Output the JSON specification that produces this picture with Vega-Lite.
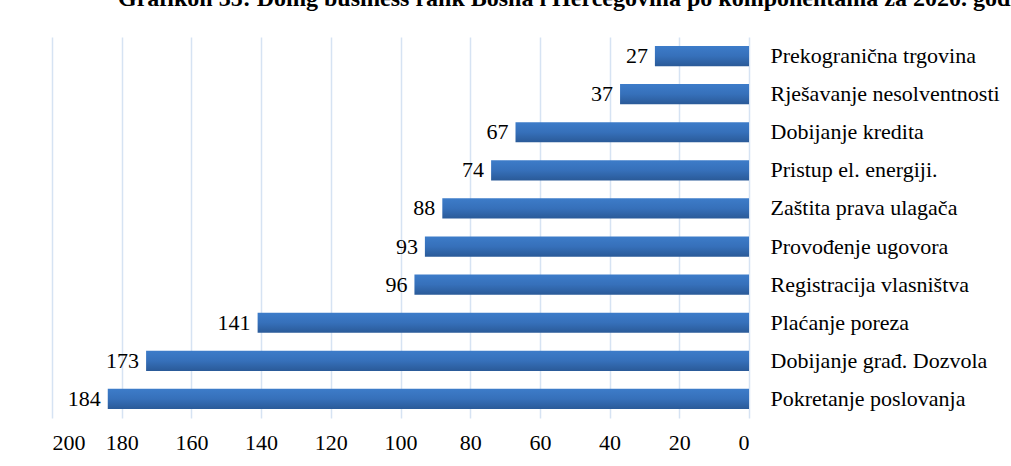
{
  "$schema": "https://vega.github.io/schema/vega-lite/v6.json",
  "autosize": "none",
  "width": 697,
  "height": 381,
  "padding": {"left": 52, "top": 37, "right": 262, "bottom": 48},
  "background": "white",
  "title": {
    "text": "Grafikon 35: Doing business rank Bosna i Hercegovina po komponentama za 2020. godinu",
    "anchor": "start",
    "dx": 66,
    "offset": 7,
    "baseline": "alphabetic",
    "font": "Times New Roman",
    "fontSize": 24,
    "fontWeight": "bold",
    "color": "#000000"
  },
  "data": {
    "values": [
      {"komponenta": "Prekogranična trgovina", "rank": 27},
      {"komponenta": "Rješavanje nesolventnosti", "rank": 37},
      {"komponenta": "Dobijanje kredita", "rank": 67},
      {"komponenta": "Pristup el. energiji.", "rank": 74},
      {"komponenta": "Zaštita prava ulagača", "rank": 88},
      {"komponenta": "Provođenje ugovora", "rank": 93},
      {"komponenta": "Registracija vlasništva", "rank": 96},
      {"komponenta": "Plaćanje poreza", "rank": 141},
      {"komponenta": "Dobijanje građ. Dozvola", "rank": 173},
      {"komponenta": "Pokretanje poslovanja", "rank": 184}
    ]
  },
  "encoding": {
    "y": {
      "field": "komponenta",
      "type": "nominal",
      "sort": null,
      "scale": {"paddingInner": 0.47, "paddingOuter": 0.235},
      "axis": {
        "orient": "right",
        "title": null,
        "domain": false,
        "ticks": false,
        "grid": false,
        "labelPadding": 21,
        "labelLimit": 300,
        "labelFont": "Times New Roman",
        "labelFontSize": 22,
        "labelColor": "#000000"
      }
    },
    "x": {
      "field": "rank",
      "type": "quantitative",
      "scale": {"domain": [0, 200], "reverse": true, "nice": false},
      "axis": {
        "title": null,
        "values": [0, 20, 40, 60, 80, 100, 120, 140, 160, 180, 200],
        "domain": false,
        "ticks": false,
        "grid": true,
        "gridColor": "#d6e3f3",
        "gridWidth": 1.5,
        "labelPadding": 14,
        "labelFont": "Times New Roman",
        "labelFontSize": 22,
        "labelColor": "#000000"
      }
    }
  },
  "layer": [
    {
      "mark": {
        "type": "bar",
        "color": {
          "gradient": "linear",
          "x1": 0, "y1": 0, "x2": 0, "y2": 1,
          "stops": [
            {"offset": 0, "color": "#3d7cc9"},
            {"offset": 0.5, "color": "#3670ba"},
            {"offset": 1, "color": "#2a5a98"}
          ]
        }
      }
    },
    {
      "mark": {
        "type": "text",
        "align": "right",
        "baseline": "middle",
        "dx": -7,
        "font": "Times New Roman",
        "fontSize": 22,
        "color": "#000000"
      },
      "encoding": {"text": {"field": "rank", "type": "quantitative"}}
    }
  ],
  "config": {"view": {"stroke": null}}
}
